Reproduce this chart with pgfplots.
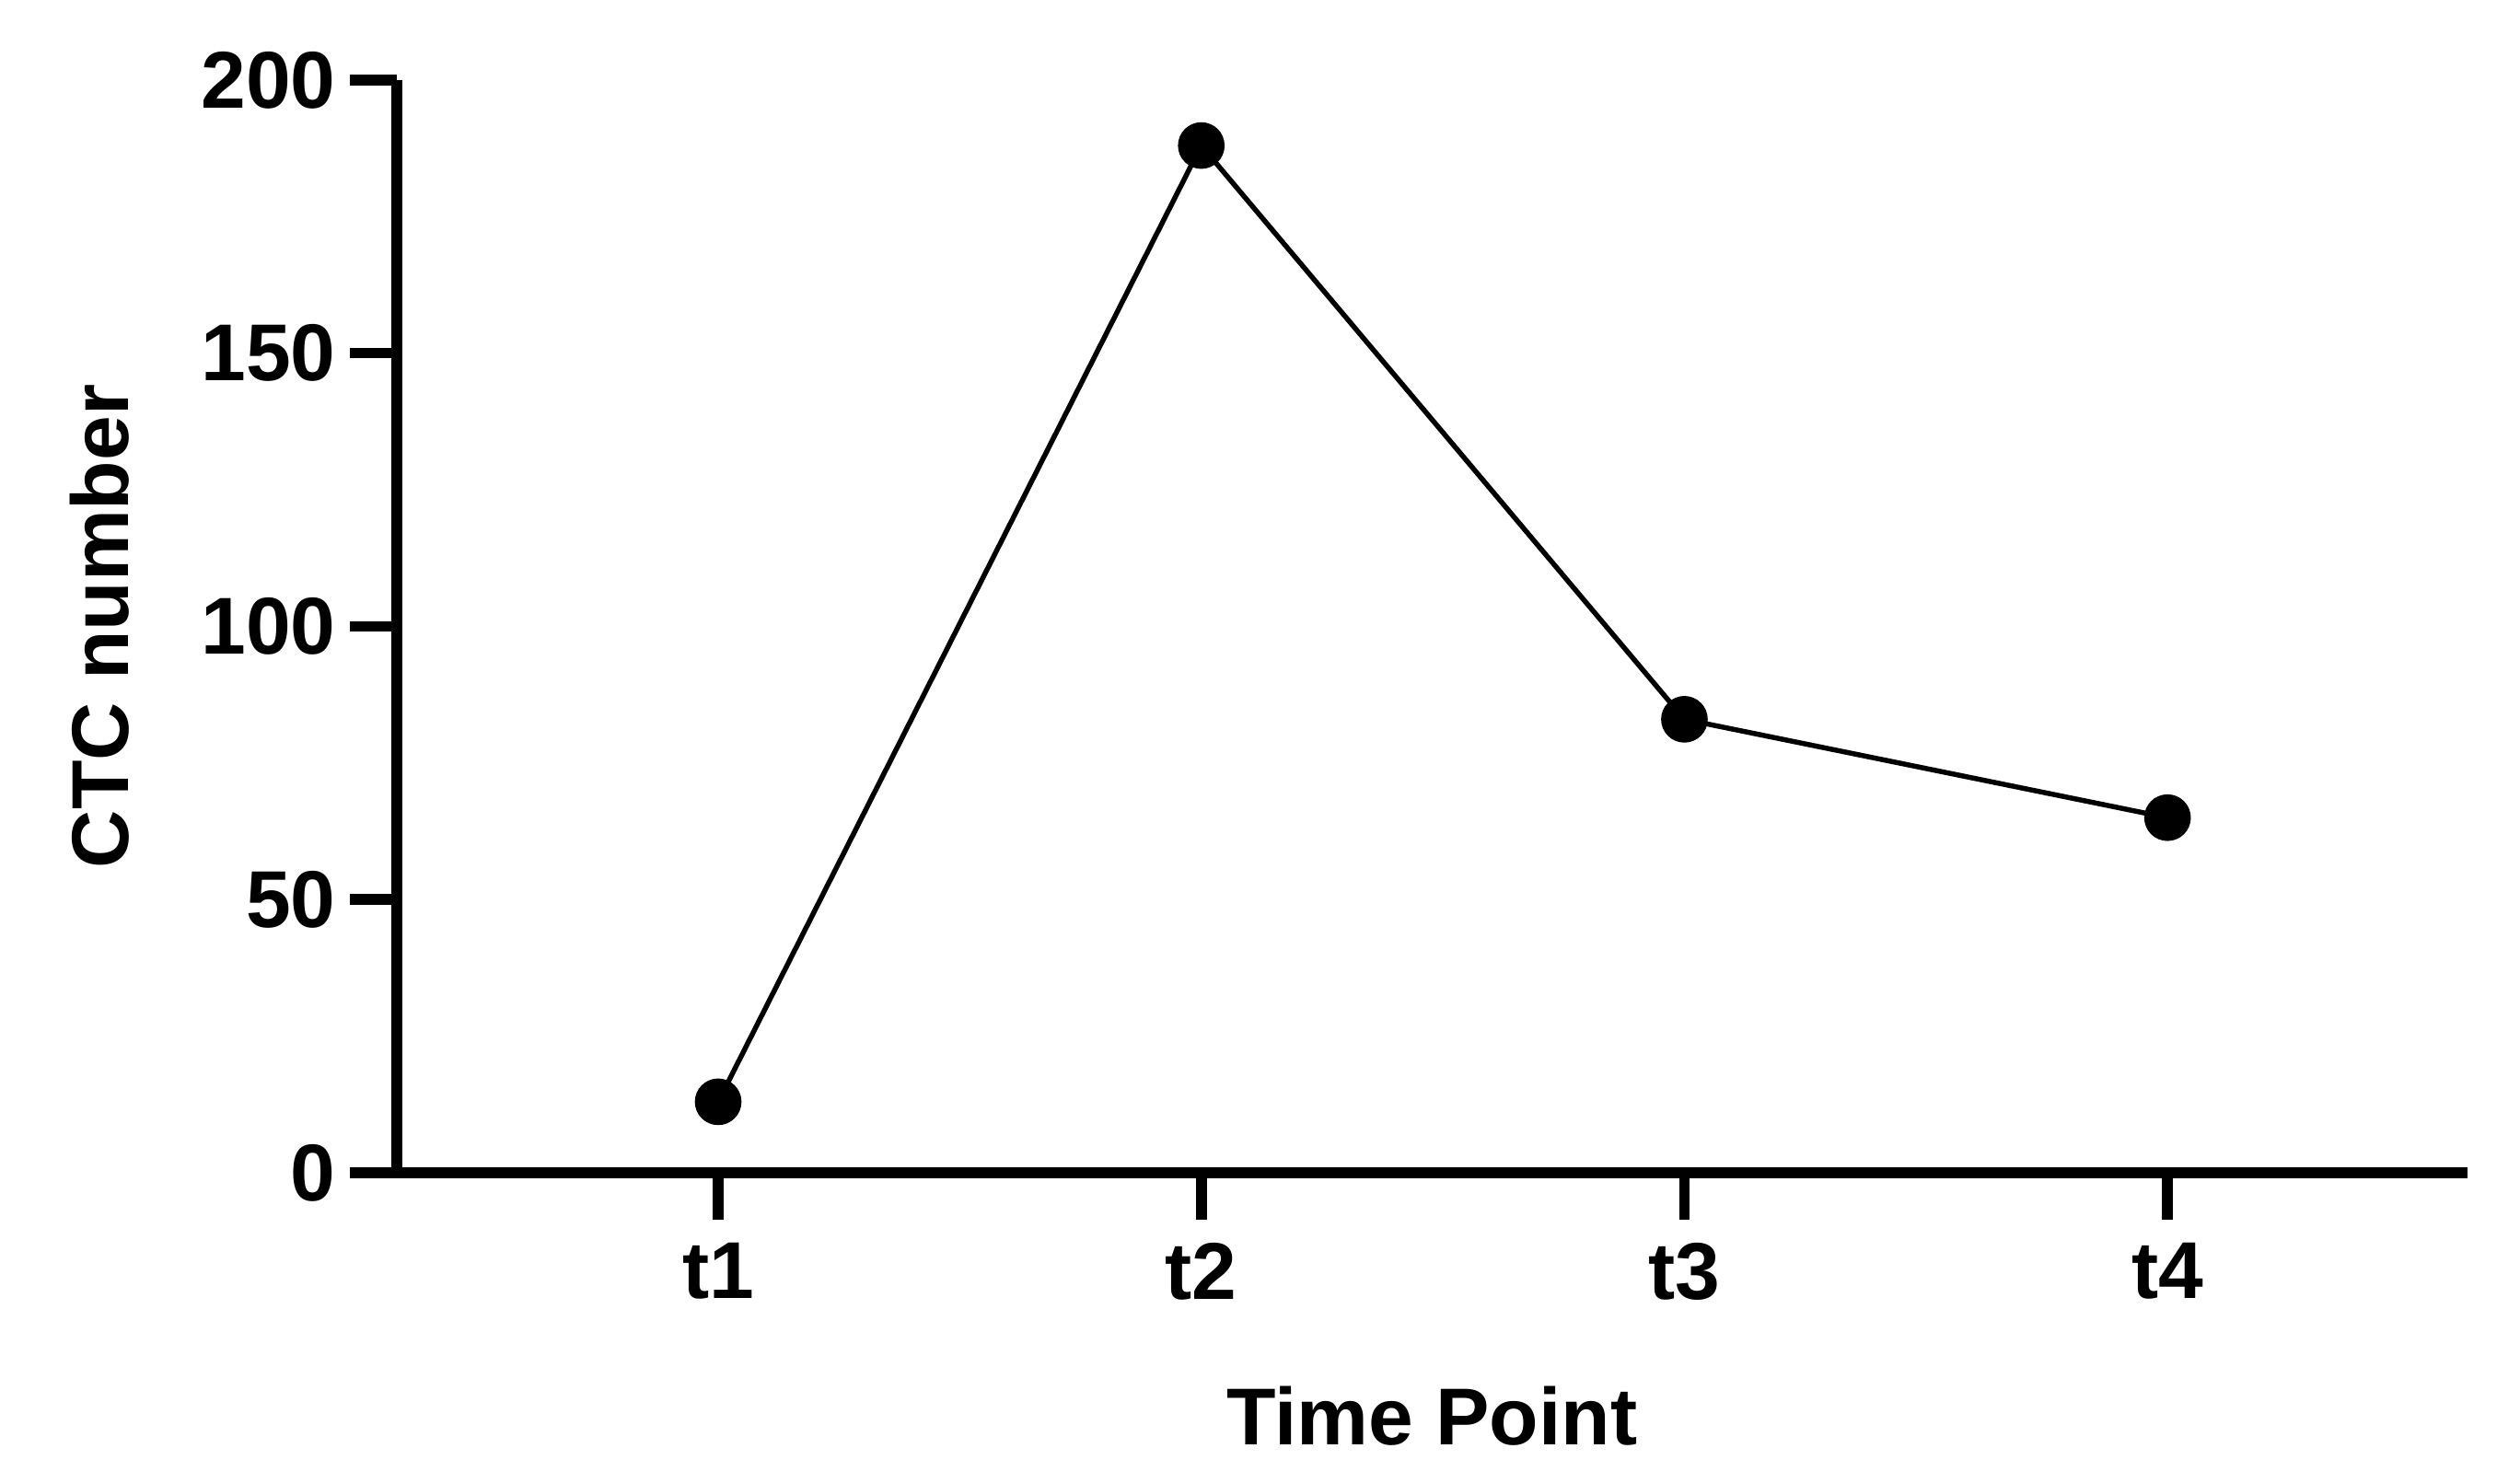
\documentclass[border=0pt]{standalone}
\usepackage{fontspec}
\setmainfont{Liberation Sans}
\usepackage{pgfplots}
\pgfplotsset{compat=1.18}
\begin{document}
\begin{tikzpicture}
\path[use as bounding box] (-63pt,-49.2pt) rectangle (337pt,186.2pt);
\begin{axis}[
  at={(0,0)}, anchor=south west,
  scale only axis,
  width=328.6pt, height=173.5pt,
  xmin=0.335, xmax=4.62,
  ymin=0, ymax=200,
  axis lines=left,
  axis line style={line width=1.7pt, -},
  tick style={line width=1.7pt, black},
  tick align=outside,
  major tick length=7.5pt,
  xtick={1,2,3,4},
  xticklabels={t1,t2,t3,t4},
  ytick={0,50,100,150,200},
  /pgf/number format/assume math mode=true,
  ticklabel style={font=\bfseries\fontsize{12.8}{15}\selectfont},
  xticklabel style={anchor=north, inner sep=0pt, yshift=-3.5pt},
  yticklabel style={anchor=east, inner sep=0pt, xshift=-2pt},
  label style={font=\bfseries\fontsize{12.8}{15}\selectfont},
  xlabel={Time Point},
  ylabel={CTC number},
  xlabel style={at={(axis description cs:0.5,0)}, anchor=north, inner sep=0pt, yshift=-33.7pt},
  ylabel style={at={(axis description cs:0,0.5)}, anchor=center, inner sep=0pt, yshift=47.2pt},
  clip=false,
]
\addplot[black, line width=0.8pt, mark=*, mark size=3.3pt, mark options={fill=black}]
  coordinates {(1,13) (2,188) (3,83) (4,65)};
\end{axis}
\end{tikzpicture}
\end{document}
